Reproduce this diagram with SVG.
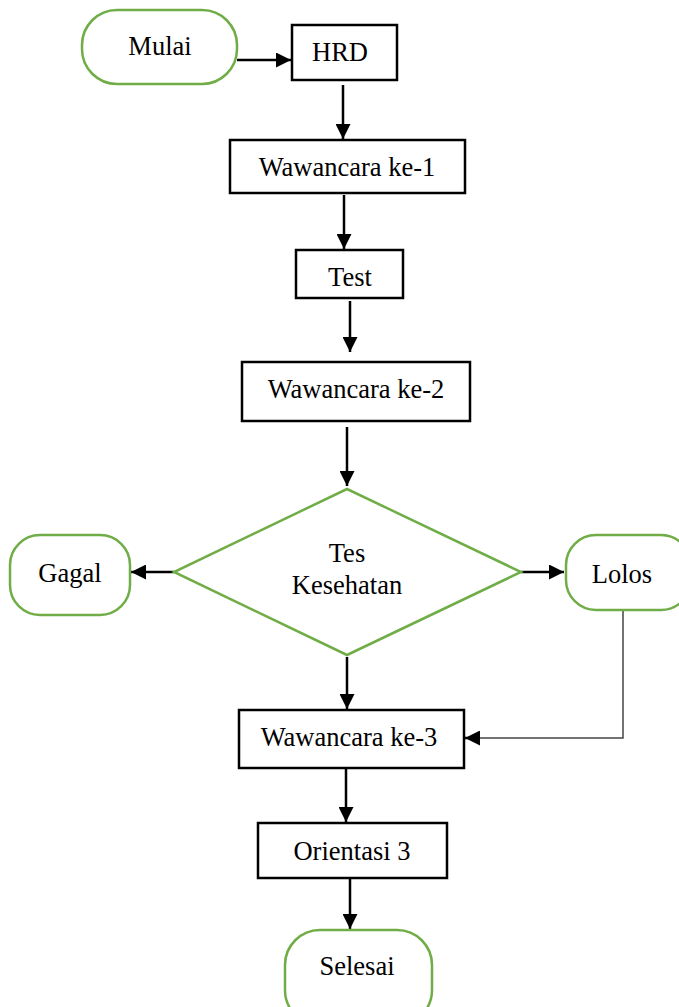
<svg xmlns="http://www.w3.org/2000/svg" width="679" height="1007" viewBox="0 0 679 1007">
<style>
.term{fill:#fff;stroke:#70AD47;stroke-width:2.5}
.box{fill:#fff;stroke:#000;stroke-width:2.5}
.dec{fill:#fff;stroke:#70AD47;stroke-width:2.5}
.t{font-family:'Liberation Serif','Times New Roman',serif;font-size:26.5px;fill:#000;text-anchor:middle}
.c{stroke:#000;stroke-width:2.5;fill:none}
.c2{stroke:#444;stroke-width:1.5;fill:none}
</style>
<defs>
<marker id="ah" viewBox="0 0 10 10" refX="10" refY="5" markerWidth="15" markerHeight="15" markerUnits="userSpaceOnUse" orient="auto">
<path d="M0,0 L10,5 L0,10 z" fill="#000"/>
</marker>
</defs>
<rect width="679" height="1007" fill="#fff"/>
<g id="connectors">
<line class="c" x1="237" y1="60" x2="291" y2="60" marker-end="url(#ah)"/>
<line class="c" x1="343" y1="85" x2="343" y2="139" marker-end="url(#ah)"/>
<line class="c" x1="344" y1="195" x2="344" y2="249" marker-end="url(#ah)"/>
<line class="c" x1="350" y1="301" x2="350" y2="352" marker-end="url(#ah)"/>
<line class="c" x1="347" y1="427" x2="347" y2="486" marker-end="url(#ah)"/>
<line class="c" x1="174" y1="572" x2="131" y2="572" marker-end="url(#ah)"/>
<line class="c" x1="521" y1="572" x2="564" y2="572" marker-end="url(#ah)"/>
<line class="c" x1="347" y1="657" x2="347" y2="709" marker-end="url(#ah)"/>
<polyline class="c2" points="623,610 623,738 475,738"/>
<line class="c" x1="478" y1="738" x2="465" y2="738" marker-end="url(#ah)"/>
<line class="c" x1="346" y1="765" x2="346" y2="822" marker-end="url(#ah)"/>
<line class="c" x1="350" y1="878" x2="350" y2="929" marker-end="url(#ah)"/>
</g>
<g id="mulai"><rect class="term" x="82" y="10" width="155" height="74" rx="35"/><text class="t" x="160" y="55">Mulai</text></g>
<g id="hrd"><rect class="box" x="292" y="25" width="105" height="55"/><text class="t" x="340" y="61">HRD</text></g>
<g id="w1"><rect class="box" x="230" y="140" width="235" height="53"/><text class="t" x="347" y="176">Wawancara ke-1</text></g>
<g id="test"><rect class="box" x="296" y="250" width="107" height="48"/><text class="t" x="350" y="286">Test</text></g>
<g id="w2"><rect class="box" x="242" y="362" width="228" height="59"/><text class="t" x="356" y="398">Wawancara ke-2</text></g>
<g id="tes"><polygon class="dec" points="347,489 521,572 347,655 174,572"/><text class="t" x="347" y="562">Tes</text><text class="t" x="347" y="594">Kesehatan</text></g>
<g id="gagal"><rect class="term" x="10" y="535" width="120" height="80" rx="30"/><text class="t" x="70" y="582">Gagal</text></g>
<g id="lolos"><rect class="term" x="566" y="535" width="125" height="75" rx="30"/><text class="t" x="622" y="583">Lolos</text></g>
<g id="w3"><rect class="box" x="239" y="710" width="225" height="58"/><text class="t" x="349" y="746">Wawancara ke-3</text></g>
<g id="orientasi"><rect class="box" x="258" y="823" width="189" height="55"/><text class="t" x="352" y="860">Orientasi 3</text></g>
<g id="selesai"><rect class="term" x="285" y="930" width="147" height="95" rx="35"/><text class="t" x="357" y="975">Selesai</text></g>
</svg>
